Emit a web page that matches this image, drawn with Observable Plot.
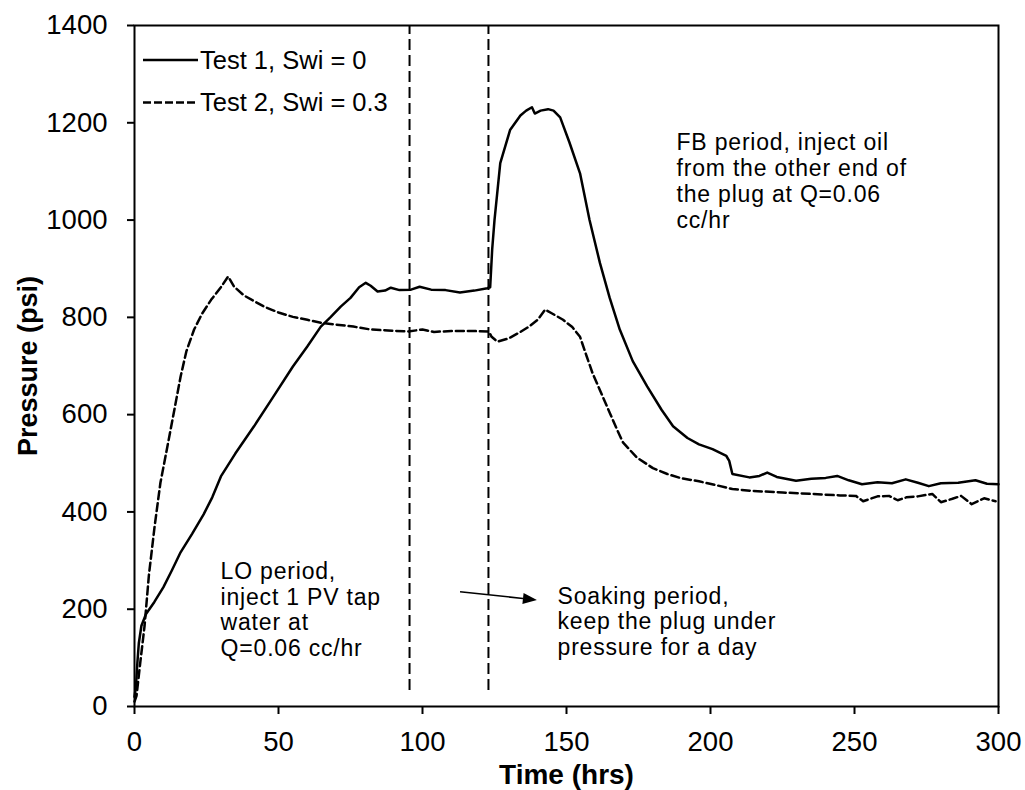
<!DOCTYPE html>
<html>
<head>
<meta charset="utf-8">
<script src="https://cdn.jsdelivr.net/npm/d3@7"></script>
<script src="https://cdn.jsdelivr.net/npm/@observablehq/plot@0.6"></script>
<style>
  html, body { margin: 0; padding: 0; background: #fff; }
  #chart { width: 1025px; height: 790px; }
  .notes text { letter-spacing: 0.8px; }
</style>
</head>
<body>
<div id="chart"></div>
<script>
// ---- Data ----
const seriesNames = ["Test 1, Swi = 0", "Test 2, Swi = 0.3"];

const test1Time = [0,0.5,1,1.5,2.4,4,6.9,10,13,16,20,24,27,30,35,41.5,48,55,60,64.7,68,71.6,75,78,80.3,82,84.4,87,89,92,96,99,103,108,113,118,122.5,123.5,124.2,125,127,130.4,134,136,138,139,141,143.6,145.5,147.8,151,154.7,158,161.6,165,168.5,173,178,183,187,192,196,200.7,205.5,206.5,207.6,213.5,217,219.7,223,229.7,235,240,244,248,252.6,258,263,267.8,272,275.8,280,286,292,296,300];
const test1Pressure = [20,40,90,130,166,190,215,245,280,317,355,395,430,473,520,576,635,699,740,781,800,822,840,862,871,865,853,855,861,856,857,863,857,856,851,855,860,862,940,1000,1117,1185,1215,1225,1232,1219,1225,1228,1225,1211,1160,1096,1000,912,840,775,710,658,610,576,552,539,529,515,505,478,471,474,481,472,464,468,470,474,465,457,461,459,467,460,453,459,460,465,458,457];

const test2Time = [0,0.7,2,3.5,5,7,9,11.7,14,16,18,20.7,23.5,26.6,30,32.5,34.6,38,45,50,55,60,64.7,70,76,82,88,95,100,104,110,117,123,124,126,130,134,137,140,142.6,145,148.8,152,154.7,157,159,162,165,167.5,169.6,174.4,180,185,190,196,202,207.6,215,225,235,245,250.5,253,255,258,262,265,268,272,277,280,284,287,290.7,295,299];
const test2Pressure = [10,22,90,166,270,371,460,543,615,678,730,775,808,836,862,884,863,845,822,810,801,795,789,785,781,775,773,771,775,770,772,772,771,760,750,757,770,781,795,816,808,795,780,760,720,686,645,604,570,543,512,490,478,469,463,455,447,443,440,437,434,433,422,426,432,433,424,430,432,437,420,427,433,416,428,422];

const periodBoundaries = [95.5, 122.9];   // hrs, vertical dashed lines
const xTicks = [0, 50, 100, 150, 200, 250, 300];
const yTicks = [0, 200, 400, 600, 800, 1000, 1200, 1400];

const notes = [
  {t: 29.9, p: 300, label: "LO period,\ninject 1 PV tap\nwater at\nQ=0.06 cc/hr"},
  {t: 146.9, p: 249, label: "Soaking period,\nkeep the plug under\npressure for a day"},
  {t: 188.2, p: 1181, label: "FB period, inject oil\nfrom the other end of\nthe plug at Q=0.06\ncc/hr"}
];
const soakArrow = {t1: 113.2, p1: 235, t2: 139.9, p2: 218};

// ---- Build tables ----
const test1 = test1Time.map((t, i) => ({t, p: test1Pressure[i]}));
const test2 = test2Time.map((t, i) => ({t, p: test2Pressure[i]}));

const FONT = "'Liberation Sans', Arial, Helvetica, sans-serif";

function legendMark(index, scales, values, dims) {
  const g = d3.create("svg:g");
  const rows = [
    {y: 60, dash: null, label: seriesNames[0]},
    {y: 102.5, dash: "8,3", label: seriesNames[1]}
  ];
  for (const r of rows) {
    g.append("line")
      .attr("x1", 143).attr("x2", 198)
      .attr("y1", r.y).attr("y2", r.y)
      .attr("stroke", "black").attr("stroke-width", 2.5)
      .attr("stroke-dasharray", r.dash);
    g.append("text")
      .attr("x", 200).attr("y", r.y)
      .attr("dy", "0.35em")
      .attr("text-anchor", "start")
      .attr("font-size", 25.5)
      .attr("fill", "black")
      .text(r.label);
  }
  return g.node();
}

function arrowMark(index, scales) {
  const x1 = scales.x(soakArrow.t1), y1 = scales.y(soakArrow.p1);
  const x2 = scales.x(soakArrow.t2), y2 = scales.y(soakArrow.p2);
  const ang = Math.atan2(y2 - y1, x2 - x1);
  const L = 14, W = 5.5;
  const bx = x2 - L * Math.cos(ang), by = y2 - L * Math.sin(ang);
  const px = -Math.sin(ang) * W, py = Math.cos(ang) * W;
  const g = d3.create("svg:g");
  g.append("line").attr("x1", x1).attr("y1", y1).attr("x2", bx).attr("y2", by)
    .attr("stroke", "black").attr("stroke-width", 1.6);
  g.append("path")
    .attr("d", `M${x2},${y2}L${bx + px},${by + py}L${bx - px},${by - py}Z`)
    .attr("fill", "black");
  return g.node();
}

const chart = Plot.plot({
  width: 1025,
  height: 790,
  marginLeft: 134,
  marginRight: 27,
  marginTop: 25,
  marginBottom: 84,
  style: {fontFamily: FONT, fontSize: "27px", color: "black", background: "white", overflow: "visible"},
  x: {domain: [0, 300], label: null},
  y: {domain: [0, 1400], label: null},
  marks: [
    Plot.ruleX(periodBoundaries, {y1: 33, y2: 1400, stroke: "black", strokeWidth: 2, strokeDasharray: "11,5"}),
    Plot.line(test2, {x: "t", y: "p", stroke: "black", strokeWidth: 2.5, strokeDasharray: "8,4"}),
    Plot.line(test1, {x: "t", y: "p", stroke: "black", strokeWidth: 2.5}),
    Plot.frame({stroke: "black", strokeWidth: 2}),
    Plot.axisX({ticks: xTicks, tickSize: 8, tickPadding: 17, strokeWidth: 2, fontSize: 27.5, label: null, tickFormat: d => String(d)}),
    Plot.axisY({ticks: yTicks, tickSize: 7, tickPadding: 20, strokeWidth: 2, fontSize: 27.5, label: null, tickFormat: d => String(d)}),
    Plot.text(notes, {x: "t", y: "p", text: "label", textAnchor: "start", lineAnchor: "top", fontSize: 23, lineHeight: 1.12, fill: "black", className: "notes"}),
    arrowMark,
    legendMark,
    Plot.text(["Pressure (psi)"], {frameAnchor: "left", textAnchor: "middle", rotate: -90, dx: -106, fontWeight: "bold", fontSize: 27, fill: "black"}),
    Plot.text(["Time (hrs)"], {frameAnchor: "bottom", dy: 69, lineAnchor: "middle", fontWeight: "bold", fontSize: 28, fill: "black"})
  ]
});

document.getElementById("chart").appendChild(chart);
</script>
</body>
</html>
